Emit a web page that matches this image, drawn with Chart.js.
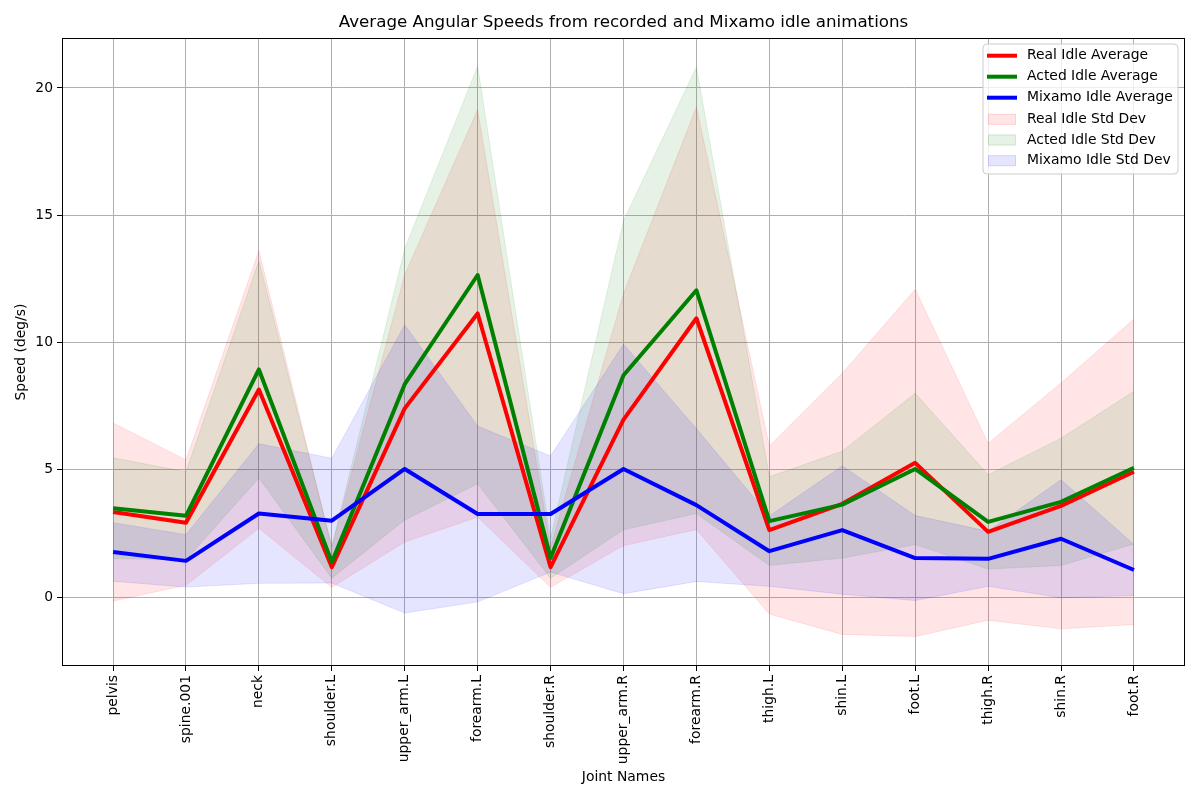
<!DOCTYPE html>
<html><head><meta charset="utf-8">
<script src="https://cdn.jsdelivr.net/npm/chart.js@4"></script>
<style>html,body{margin:0;padding:0;background:#fff}canvas{display:block}</style>
</head><body>
<canvas id="c" width="1200" height="800"></canvas>
<script>
const joints = ["pelvis","spine.001","neck","shoulder.L","upper_arm.L","forearm.L","shoulder.R","upper_arm.R","forearm.R","thigh.L","shin.L","foot.L","thigh.R","shin.R","foot.R"];
const realAvg   = [3.34, 2.92, 8.15, 1.17, 7.41, 11.14, 1.17, 6.97, 10.95, 2.63, 3.66, 5.27, 2.56, 3.58, 4.92];
const actedAvg  = [3.49, 3.19, 8.94, 1.37, 8.36, 12.65, 1.53, 8.71, 12.05, 2.98, 3.63, 5.03, 2.95, 3.74, 5.08];
const mixamoAvg = [1.77, 1.42, 3.28, 3.00, 5.03, 3.26, 3.26, 5.03, 3.61, 1.80, 2.63, 1.53, 1.50, 2.29, 1.06];
const realStd   = [3.50, 2.46, 5.45, 0.79, 5.25, 8.00, 0.79, 4.95, 8.30, 3.30, 5.13, 6.82, 3.47, 4.83, 6.00];
const actedStd  = [1.98, 1.73, 4.26, 0.63, 5.33, 8.20, 0.79, 6.07, 8.77, 1.74, 2.10, 2.97, 1.85, 2.50, 3.00];
const mixamoStd = [1.15, 1.03, 2.74, 2.45, 5.66, 3.45, 2.28, 4.90, 3.00, 1.38, 2.52, 1.67, 1.08, 2.32, 1.00];
const yTicks = [0, 5, 10, 15, 20];

const FONT = "'DejaVu Sans', sans-serif";
const pts = arr => arr.map((v, i) => ({x: i, y: v}));
const upper = (m, s) => m.map((v, i) => ({x: i, y: v + s[i]}));
const lower = (m, s) => m.map((v, i) => ({x: i, y: v - s[i]}));

const series = [
  {name: "Real Idle", avg: realAvg, std: realStd, line: "#ff0000", fill: "rgba(255,0,0,0.1)"},
  {name: "Acted Idle", avg: actedAvg, std: actedStd, line: "#008000", fill: "rgba(0,128,0,0.1)"},
  {name: "Mixamo Idle", avg: mixamoAvg, std: mixamoStd, line: "#0000ff", fill: "rgba(0,0,255,0.1)"}
];

const datasets = [];
// lines first (drawn on top via order)
series.forEach((s, k) => {
  datasets.push({label: s.name + " Average", data: pts(s.avg), borderColor: s.line, backgroundColor: s.line,
    borderWidth: 4, pointRadius: 0, tension: 0, fill: false, order: 2 - k, borderJoinStyle: 'round', borderCapStyle: 'butt'});
});
series.forEach((s, k) => {
  datasets.push({label: s.name + " Std Dev", data: upper(s.avg, s.std), borderColor: s.fill, backgroundColor: s.fill,
    borderWidth: 1, pointRadius: 0, tension: 0, fill: '+1', order: 10 - k});
  datasets.push({label: "_lower", data: lower(s.avg, s.std), borderColor: s.fill, backgroundColor: s.fill,
    borderWidth: 1, pointRadius: 0, tension: 0, fill: false, order: 10 - k});
});

const decor = {
  id: 'decor',
  afterDraw(chart) {
    const ctx = chart.ctx, a = chart.chartArea;
    ctx.save();
    // frame
    ctx.strokeStyle = '#000'; ctx.lineWidth = 1;
    ctx.strokeRect(Math.round(a.left) + 0.5, Math.round(a.top) + 0.5, Math.round(a.right - a.left) - 1, Math.round(a.bottom - a.top) - 1);
    // title
    ctx.fillStyle = '#000';
    ctx.font = "16.7px " + FONT;
    ctx.textAlign = 'center'; ctx.textBaseline = 'middle';
    ctx.fillText("Average Angular Speeds from recorded and Mixamo idle animations", (a.left + a.right) / 2, 23);
    // axis titles
    ctx.font = "13.9px " + FONT;
    ctx.fillText("Joint Names", (a.left + a.right) / 2, 777);
    ctx.save();
    ctx.translate(21, (a.top + a.bottom) / 2);
    ctx.rotate(-Math.PI / 2);
    ctx.fillText("Speed (deg/s)", 0, 0);
    ctx.restore();
    // legend
    const lx = 983, ly = 44, lw = 195, lh = 130, r = 4;
    ctx.beginPath();
    ctx.moveTo(lx + r, ly); ctx.lineTo(lx + lw - r, ly); ctx.quadraticCurveTo(lx + lw, ly, lx + lw, ly + r);
    ctx.lineTo(lx + lw, ly + lh - r); ctx.quadraticCurveTo(lx + lw, ly + lh, lx + lw - r, ly + lh);
    ctx.lineTo(lx + r, ly + lh); ctx.quadraticCurveTo(lx, ly + lh, lx, ly + lh - r);
    ctx.lineTo(lx, ly + r); ctx.quadraticCurveTo(lx, ly, lx + r, ly);
    ctx.closePath();
    ctx.fillStyle = 'rgba(255,255,255,0.8)'; ctx.fill();
    ctx.strokeStyle = '#cccccc'; ctx.lineWidth = 1; ctx.stroke();
    const rows = [55.7, 76.7, 97.7, 119.3, 140, 160.7];
    ctx.textAlign = 'left'; ctx.textBaseline = 'middle';
    series.forEach((s, k) => {
      const y = rows[k];
      ctx.strokeStyle = s.line; ctx.lineWidth = 4;
      ctx.beginPath(); ctx.moveTo(987, y); ctx.lineTo(1017, y); ctx.stroke();
      ctx.fillStyle = '#000'; ctx.font = "13.9px " + FONT;
      ctx.fillText(s.name + " Average", 1027, y);
    });
    series.forEach((s, k) => {
      const y = rows[3 + k];
      ctx.fillStyle = s.fill; ctx.fillRect(988, y - 5.5, 28, 11);
      ctx.strokeStyle = s.fill; ctx.lineWidth = 1; ctx.strokeRect(988.5, y - 5, 27, 10);
      ctx.fillStyle = '#000'; ctx.font = "13.9px " + FONT;
      ctx.fillText(s.name + " Std Dev", 1027, y);
    });
    ctx.restore();
  }
};

new Chart(document.getElementById('c'), {
  type: 'line',
  data: {datasets},
  plugins: [decor],
  options: {
    responsive: false,
    animation: false,
    devicePixelRatio: 1,
    layout: {padding: {top: 38, right: 15, left: 0, bottom: 0}},
    plugins: {
      legend: {display: false}, title: {display: false}, tooltip: {enabled: false},
      filler: {drawTime: 'beforeDatasetsDraw'}
    },
    scales: {
      x: {
        type: 'linear', min: -0.7, max: 14.7,
        afterFit(s) { s.height = 134; },
        afterBuildTicks(s) { s.ticks = joints.map((_, i) => ({value: i})); },
        grid: {color: '#b0b0b0', lineWidth: 1, tickColor: '#000', tickLength: 5, drawTicks: true},
        border: {display: false},
        ticks: {autoSkip: false, minRotation: 90, maxRotation: 90, padding: 4, color: '#000',
          font: {family: FONT, size: 13.9}, callback: v => joints[v] ?? ''}
      },
      y: {
        type: 'linear', min: -2.71, max: 21.96,
        afterFit(s) { s.width = 62; },
        afterBuildTicks(s) { s.ticks = yTicks.map(v => ({value: v})); },
        grid: {color: '#b0b0b0', lineWidth: 1, tickColor: '#000', tickLength: 5, drawTicks: true},
        border: {display: false},
        ticks: {padding: 4, color: '#000', font: {family: FONT, size: 13.9}, callback: v => String(v)}
      }
    }
  }
});
</script>
</body></html>
